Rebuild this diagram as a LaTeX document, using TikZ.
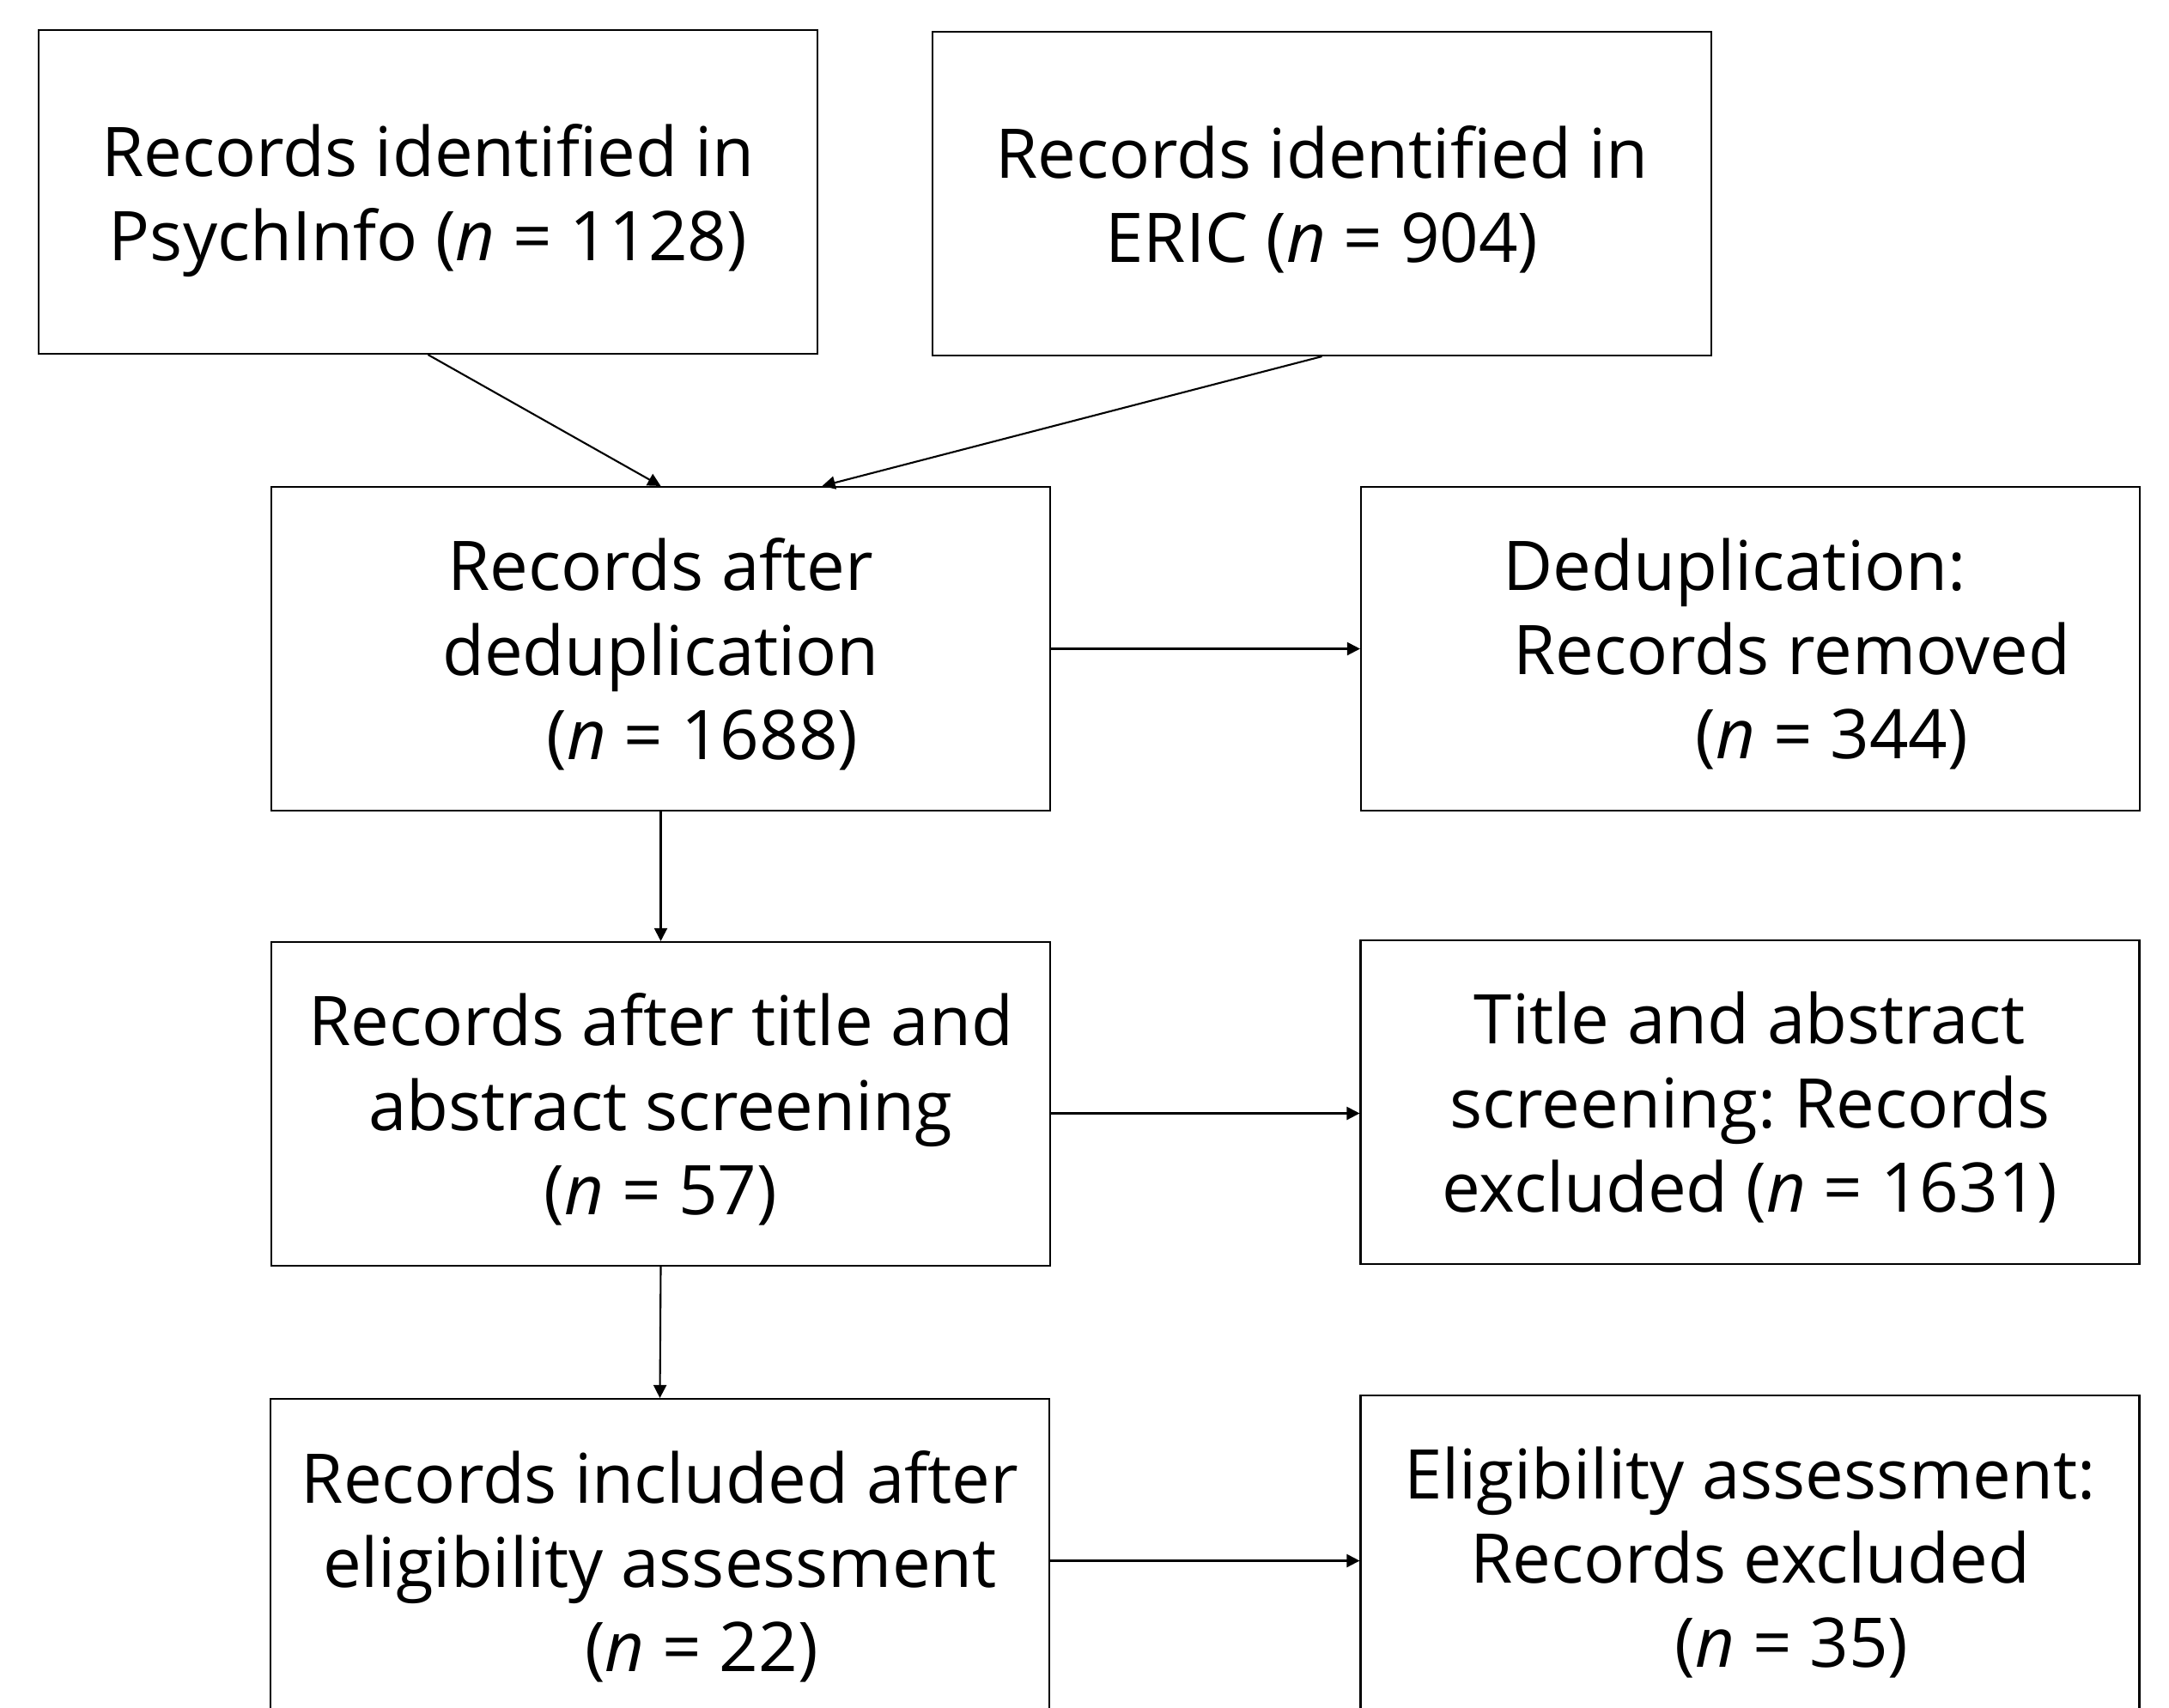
\documentclass[tikz,border=0pt]{standalone}
\usepackage{fontspec}
\setmainfont{Open Sans}
\frenchspacing
\usetikzlibrary{arrows.meta}
\tikzstyle{recbox} = [draw, line width=0.6pt, minimum width=9.07cm, minimum height=3.77cm, inner sep=0pt, text depth=0pt, align=center, font=\fontsize{22.7}{27.9}\selectfont]
\tikzstyle{arrow} = [line width=0.6pt,->,>={Triangle[length=4.3pt,width=4.3pt]}]

\begin{document}
\begin{tikzpicture}
        \clip (0,0) rectangle (25.26,-19.88);
        %zrodla
        \node[recbox] (psych) at (4.985,-2.235) {Records identified in\\PsychInfo (\textit{n} = 1128)};
        \node[recbox] (eric) at (15.395,-2.255) {Records identified in\\ERIC (\textit{n} = 904)};
        %lewa kolumna
        \node[recbox] (dedup) at (7.695,-7.555) {Records after\\deduplication\\\hspace*{0.97cm}(\textit{n} = 1688)};
        \node[recbox] (screen) at (7.695,-12.855) {Records after title and\\abstract screening\\(\textit{n} = 57)};
        \node[recbox] (incl) at (7.685,-18.175) {Records included after\\eligibility assessment\\\hspace*{0.97cm}(\textit{n} = 22)};
        %prawa kolumna
        \node[recbox] (removed) at (20.385,-7.555) {Deduplication:\rule{0.37cm}{0pt}\\\hspace*{0.97cm}Records removed\\\hspace*{1.9cm}(\textit{n} = 344)};
        \node[recbox] (exscreen) at (20.38,-12.835) {Title and abstract\\screening: Records\\excluded (\textit{n} = 1631)};
        \node[recbox] (exelig) at (20.38,-18.135) {Eligibility assessment:\\Records excluded\\\hspace*{0.97cm}(\textit{n} = 35)};
        %strzalki
        \draw[arrow] (psych.south) -- (dedup.north);
        \draw[arrow] (eric.south) -- ([xshift=1.88cm]dedup.north);
        \draw[arrow] (dedup.east) -- (dedup.east -| removed.west);
        \draw[arrow] (dedup.south) -- (screen.north);
        \draw[arrow] ([yshift=-0.11cm]screen.east) -- ([yshift=-0.11cm]screen.east -| exscreen.west);
        \draw[arrow] (screen.south) -- (incl.north);
        \draw[arrow] (incl.east) -- (incl.east -| exelig.west);
    \end{tikzpicture}
\end{document}
